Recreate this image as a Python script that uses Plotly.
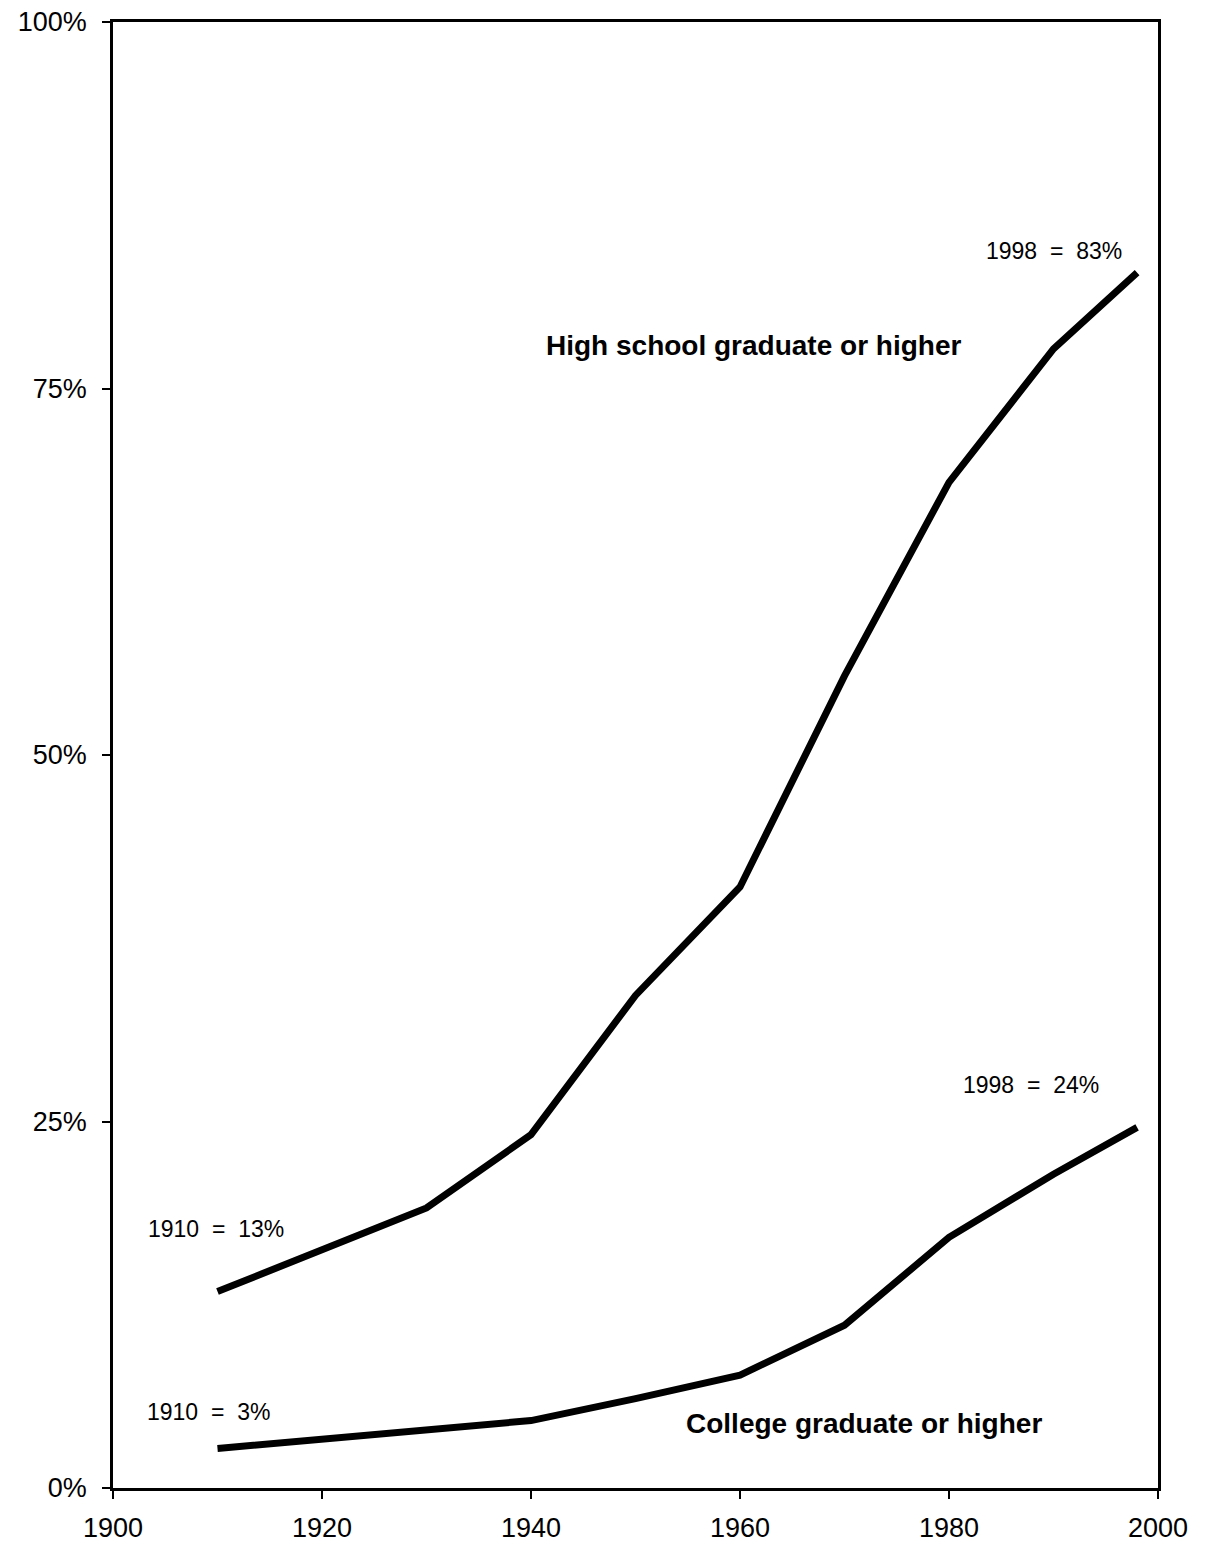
import plotly.graph_objects as go

years = [1910, 1920, 1930, 1940, 1950, 1960, 1970, 1980, 1990, 1998]
high_school = [13.4, 16.3, 19.1, 24.1, 33.6, 41.0, 55.4, 68.6, 77.7, 82.9]
college = [2.7, 3.3, 3.9, 4.6, 6.1, 7.7, 11.1, 17.1, 21.4, 24.6]

x_ticks = [1900, 1920, 1940, 1960, 1980, 2000]
y_ticks = [0, 25, 50, 75, 100]
y_labels = ["0%", "25%", "50%", "75%", "100%"]

fig = go.Figure()
fig.add_trace(go.Scatter(x=years, y=high_school, mode="lines",
                         line=dict(color="black", width=7), name="High school graduate or higher"))
fig.add_trace(go.Scatter(x=years, y=college, mode="lines",
                         line=dict(color="black", width=7), name="College graduate or higher"))

font_reg = "Liberation Sans, Arial, sans-serif"
ann = [
    dict(x=1990.0, y=84.4, text="1998&nbsp; =&nbsp; 83%", bold=False),
    dict(x=1961.3, y=77.9, text="<b>High school graduate or higher</b>", bold=True),
    dict(x=1909.9, y=17.7, text="1910&nbsp; =&nbsp; 13%", bold=False),
    dict(x=1909.1, y=5.2, text="1910&nbsp; =&nbsp; 3%", bold=False),
    dict(x=1987.8, y=27.5, text="1998&nbsp; =&nbsp; 24%", bold=False),
    dict(x=1971.9, y=4.37, text="<b>College graduate or higher</b>", bold=True),
]
for a in ann:
    fig.add_annotation(x=a["x"], y=a["y"], text=a["text"], showarrow=False,
                       font=dict(family=font_reg, size=28 if a["bold"] else 23, color="black"))

fig.update_layout(
    width=1198, height=1553,
    margin=dict(l=105, r=48, t=14, b=73),
    paper_bgcolor="white", plot_bgcolor="white",
    showlegend=False,
    font=dict(family=font_reg, color="black"),
)
fig.update_xaxes(range=[1900, 2000], tickvals=x_ticks, ticks="outside", ticklen=8, tickwidth=2,
                 tickcolor="black", showline=True, linecolor="black", linewidth=2.5, mirror=True,
                 showgrid=False, zeroline=False, ticklabelstandoff=6, ticklabeloverflow="allow",
                 automargin=False, tickfont=dict(size=27, family=font_reg))
fig.update_yaxes(range=[0, 100], tickvals=y_ticks, ticktext=y_labels, ticks="outside", ticklen=8,
                 tickwidth=2, tickcolor="black", showline=True, linecolor="black", linewidth=2.5,
                 mirror=True, showgrid=False, zeroline=False, ticklabelstandoff=10,
                 ticklabeloverflow="allow", automargin=False, tickfont=dict(size=27, family=font_reg))

fig.write_html("out.html")
